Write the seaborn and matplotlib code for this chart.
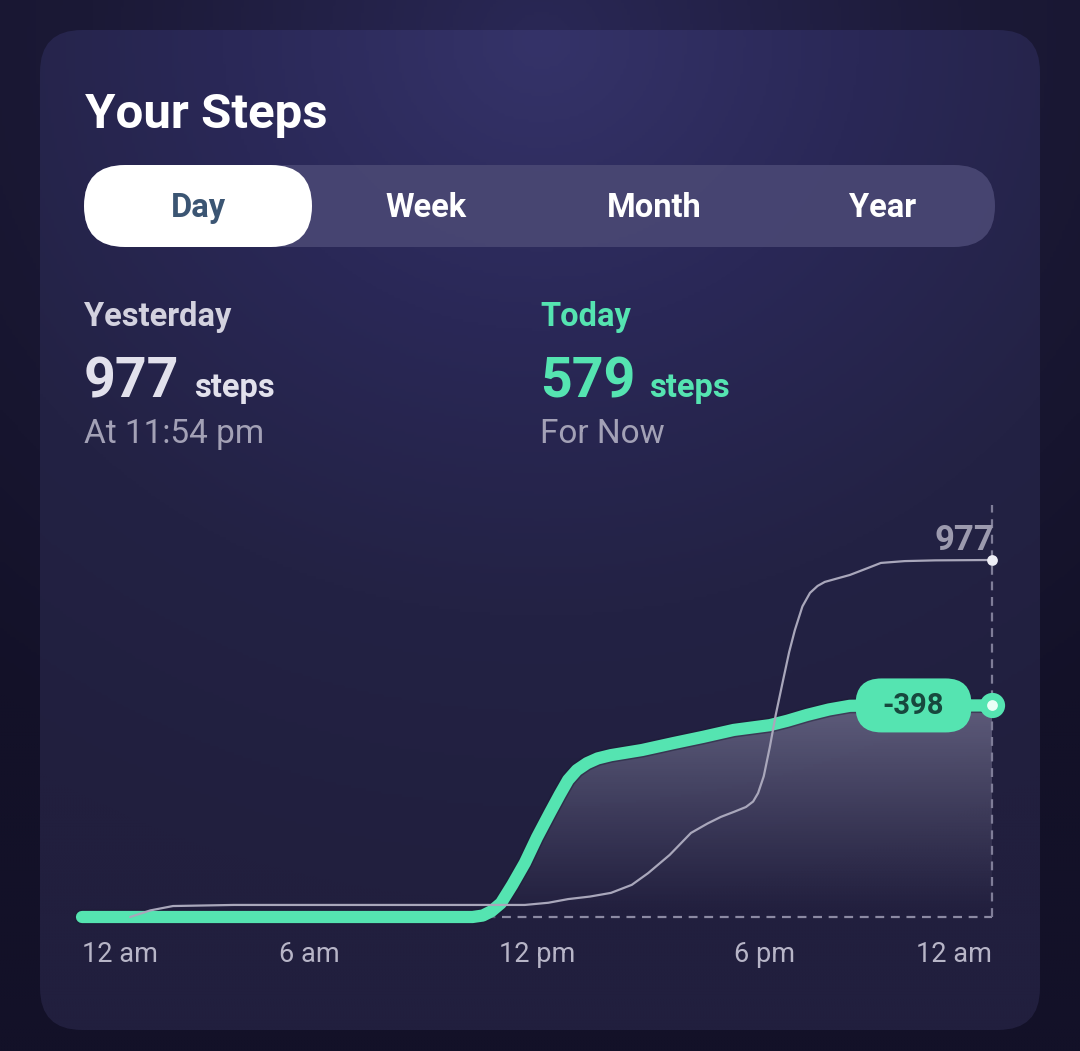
import numpy as np
import pandas as pd
import matplotlib.pyplot as plt
import seaborn as sns
from matplotlib.patches import FancyBboxPatch
from matplotlib.colors import LinearSegmentedColormap
import matplotlib.patheffects as pe

sns.set_theme(style="white")
plt.rcParams['font.family'] = ['Roboto', 'DejaVu Sans']

# data (hours since midnight, cumulative steps)
yesterday_hours = [1.27, 1.8, 2.4, 4.0, 8.0, 11.68, 12.3, 12.82, 13.4, 13.95, 14.5, 14.93,
                   15.5, 16.06, 16.5, 16.85, 17.2, 17.51, 17.7, 17.83, 17.98, 18.14, 18.3,
                   18.49, 18.65, 18.8, 19.0, 19.2, 19.4, 19.59, 19.9, 20.25, 20.7, 21.07,
                   21.7, 22.5, 24.0]
yesterday_steps = [0, 18, 30, 33, 33, 33, 39, 49, 56, 66, 88, 120, 170, 230, 256, 274,
                   288, 301, 316, 339, 385, 465, 555, 648, 725, 785, 850, 887, 906, 917,
                   926, 936, 954, 969, 974, 976, 977]
today_hours = [0.0, 4.0, 8.0, 10.3, 10.57, 10.8, 11.05, 11.35, 11.68, 12.0, 12.34, 12.6,
               12.82, 13.05, 13.32, 13.6, 13.95, 14.77, 15.6, 16.38, 17.19, 17.7, 18.14,
               18.6, 19.12, 19.7, 20.25, 21.0, 22.0, 23.0, 24.0]
today_steps = [0, 0, 0, 0, 4, 16, 38, 88, 148, 218, 285, 335, 375, 402, 421, 434, 443,
               457, 476, 493, 512, 519, 525, 537, 553, 568, 578, 579, 579, 579, 579]
tick_hours = [0, 6, 12, 18, 24]
tick_labels = ["12 am", "6 am", "12 pm", "6 pm", "12 am"]
tabs = ["Day", "Week", "Month", "Year"]
yesterday_total = 977
today_total = 579
difference = today_total - yesterday_total

GREEN = "#55e4b1"
W, H = 1080, 1051

fig = plt.figure(figsize=(W / 100, H / 100), dpi=100)
fig.patch.set_facecolor("#17152e")

# background + card (pixel coordinates, y down)
bg = fig.add_axes([0, 0, 1, 1])
bg.set_xlim(0, W)
bg.set_ylim(H, 0)
bg.axis("off")

yy, xx = np.mgrid[0:H:3, 0:W:3]
dist = np.sqrt(((xx - 540) / 1.0) ** 2 + ((yy - 40) * 1.1) ** 2)

outer_cmap = LinearSegmentedColormap.from_list("outer", ["#2a2856", "#1b1936", "#131128"])
bg.imshow(np.clip(dist / 900, 0, 1), cmap=outer_cmap, vmin=0, vmax=1,
          extent=(0, W, H, 0), aspect="auto", zorder=0)

card = FancyBboxPatch((40, 30), 1000, 1000, boxstyle="round,pad=0,rounding_size=42",
                      facecolor="none", edgecolor="none", zorder=1)
bg.add_patch(card)
card_cmap = LinearSegmentedColormap.from_list("card", ["#353369", "#2a2857", "#232244", "#211f3e"])
im = bg.imshow(np.clip(dist / 950, 0, 1), cmap=card_cmap, vmin=0, vmax=1,
               extent=(0, W, H, 0), aspect="auto", zorder=1)
im.set_clip_path(card)

# tab bar
bar = FancyBboxPatch((84, 165), 911, 82, boxstyle="round,pad=0,rounding_size=41",
                     facecolor="#4a4874", edgecolor="none", alpha=0.9, zorder=2)
bg.add_patch(bar)
sel = FancyBboxPatch((84, 165), 228, 82, boxstyle="round,pad=0,rounding_size=41",
                     facecolor="white", edgecolor="none", zorder=3)
bg.add_patch(sel)
tab_x = [198, 426, 654, 883]
for i, (t, x) in enumerate(zip(tabs, tab_x)):
    bg.text(x, 217, t, ha="center", va="baseline", fontsize=23.5, fontweight="bold",
            color="#3b5573" if i == 0 else "white", zorder=4)

bg.text(85, 128, "Your Steps", fontsize=35.5, fontweight="bold", color="white",
        va="baseline", zorder=4)

# summary columns
bg.text(84, 326, "Yesterday", fontsize=23.5, fontweight="bold", color="#d3d2df", va="baseline", zorder=4)
bg.text(84, 397, f"{yesterday_total}", fontsize=40, fontweight="bold", color="#e2e1ec", va="baseline", zorder=4)
bg.text(194, 397, "steps", fontsize=23.5, fontweight="bold", color="#e2e1ec", va="baseline", zorder=4)
bg.text(84, 443, "At 11:54 pm", fontsize=24, color="#a3a1b6", va="baseline", zorder=4)

bg.text(540, 326, "Today", fontsize=23.5, fontweight="bold", color=GREEN, va="baseline", zorder=4)
bg.text(540, 397, f"{today_total}", fontsize=40, fontweight="bold", color=GREEN, va="baseline", zorder=4)
bg.text(649, 397, "steps", fontsize=23.5, fontweight="bold", color=GREEN, va="baseline", zorder=4)
bg.text(540, 443, "For Now", fontsize=24, color="#a3a1b6", va="baseline", zorder=4)

# chart axes: 0h -> 82px, 24h -> 992px ; 0 steps -> 917px, 977 -> 560px
px_h = (992 - 82) / 24
px_s = (917 - 560) / 977
ax_l, ax_r, ax_t, ax_b = 60, 1020, 480, 930
ax = fig.add_axes([ax_l / W, (H - ax_b) / H, (ax_r - ax_l) / W, (ax_b - ax_t) / H])
ax.patch.set_alpha(0)
ax.set_xlim((ax_l - 82) / px_h, (ax_r - 82) / px_h)
ax.set_ylim((917 - ax_b) / px_s, (917 - ax_t) / px_s)
sns.despine(ax=ax, left=True, bottom=True)
ax.set_yticks([])

# gradient fill below today's line
fill = ax.fill_between(today_hours, today_steps, 0, facecolor="none", edgecolor="none")
gy = np.linspace(0, 1, 200)[:, None] * np.ones((1, 10))
rgba = np.zeros((200, 10, 4))
rgba[..., :3] = [0.80, 0.79, 0.90]
rgba[..., 3] = 0.36 * gy ** 1.1
gimg = ax.imshow(rgba, extent=(0, 24, 0, today_total), origin="lower", aspect="auto", zorder=1)
gimg.set_clip_path(fill.get_paths()[0], transform=ax.transData)

# dashed guides
ax.plot([0, 24], [0, 0], color="#8c8aa3", lw=1.6, ls=(0, (4, 3)), zorder=1.5)
ax.plot([24, 24], [0, 1127], color="#7f7d98", lw=1.6, ls=(0, (4, 3)), zorder=1.5)

df_y = pd.DataFrame({"hour": yesterday_hours, "steps": yesterday_steps})
df_t = pd.DataFrame({"hour": today_hours, "steps": today_steps})
sns.lineplot(data=df_y, x="hour", y="steps", ax=ax, color="#a9a7bb", lw=1.6, zorder=3)
sns.lineplot(data=df_t, x="hour", y="steps", ax=ax, color=GREEN, lw=8.8, zorder=2.5,
             solid_capstyle="round", solid_joinstyle="round",
             path_effects=[pe.Stroke(linewidth=11, foreground="#1c1b33", alpha=0.45), pe.Normal()])
for ln in ax.lines:
    ln.set_clip_on(False)

# end markers
ax.scatter([24], [yesterday_total], s=60, color="#eeeef6", zorder=5, clip_on=False, linewidths=0)
ax.scatter([24], [today_total], s=330, color=GREEN, zorder=5, clip_on=False, linewidths=0)
ax.scatter([24], [today_total], s=60, color="#eafff6", zorder=6, clip_on=False, linewidths=0)

ax.text(24.05, yesterday_total + 28, f"{yesterday_total}", ha="right", va="baseline",
        fontsize=25, fontweight="bold", color="#9c9aae", zorder=6)

# x ticks
ax.set_xticks(tick_hours)
ax.set_xticklabels(tick_labels)
ax.tick_params(axis="x", length=0, pad=8, labelsize=19.5, labelcolor="#b7b5c7")
ax.set_xlabel("")
ax.set_ylabel("")
lbls = ax.get_xticklabels()
lbls[0].set_ha("left")
lbls[-1].set_ha("right")

# difference pill, placed from data coordinates
top = fig.add_axes([0, 0, 1, 1], zorder=10)
top.set_xlim(0, W)
top.set_ylim(H, 0)
top.axis("off")
cx, cy = ax.transData.transform((21.93, today_total))
cy = H - cy
pill = FancyBboxPatch((cx - 58, cy - 27), 116, 54, boxstyle="round,pad=0,rounding_size=26",
                      facecolor=GREEN, edgecolor="none")
top.add_patch(pill)
top.text(cx, cy + 1, f"{difference}", ha="center", va="center", fontsize=21,
         fontweight="bold", color="#17483e")

fig.savefig("out.png", dpi=100, facecolor=fig.get_facecolor())
